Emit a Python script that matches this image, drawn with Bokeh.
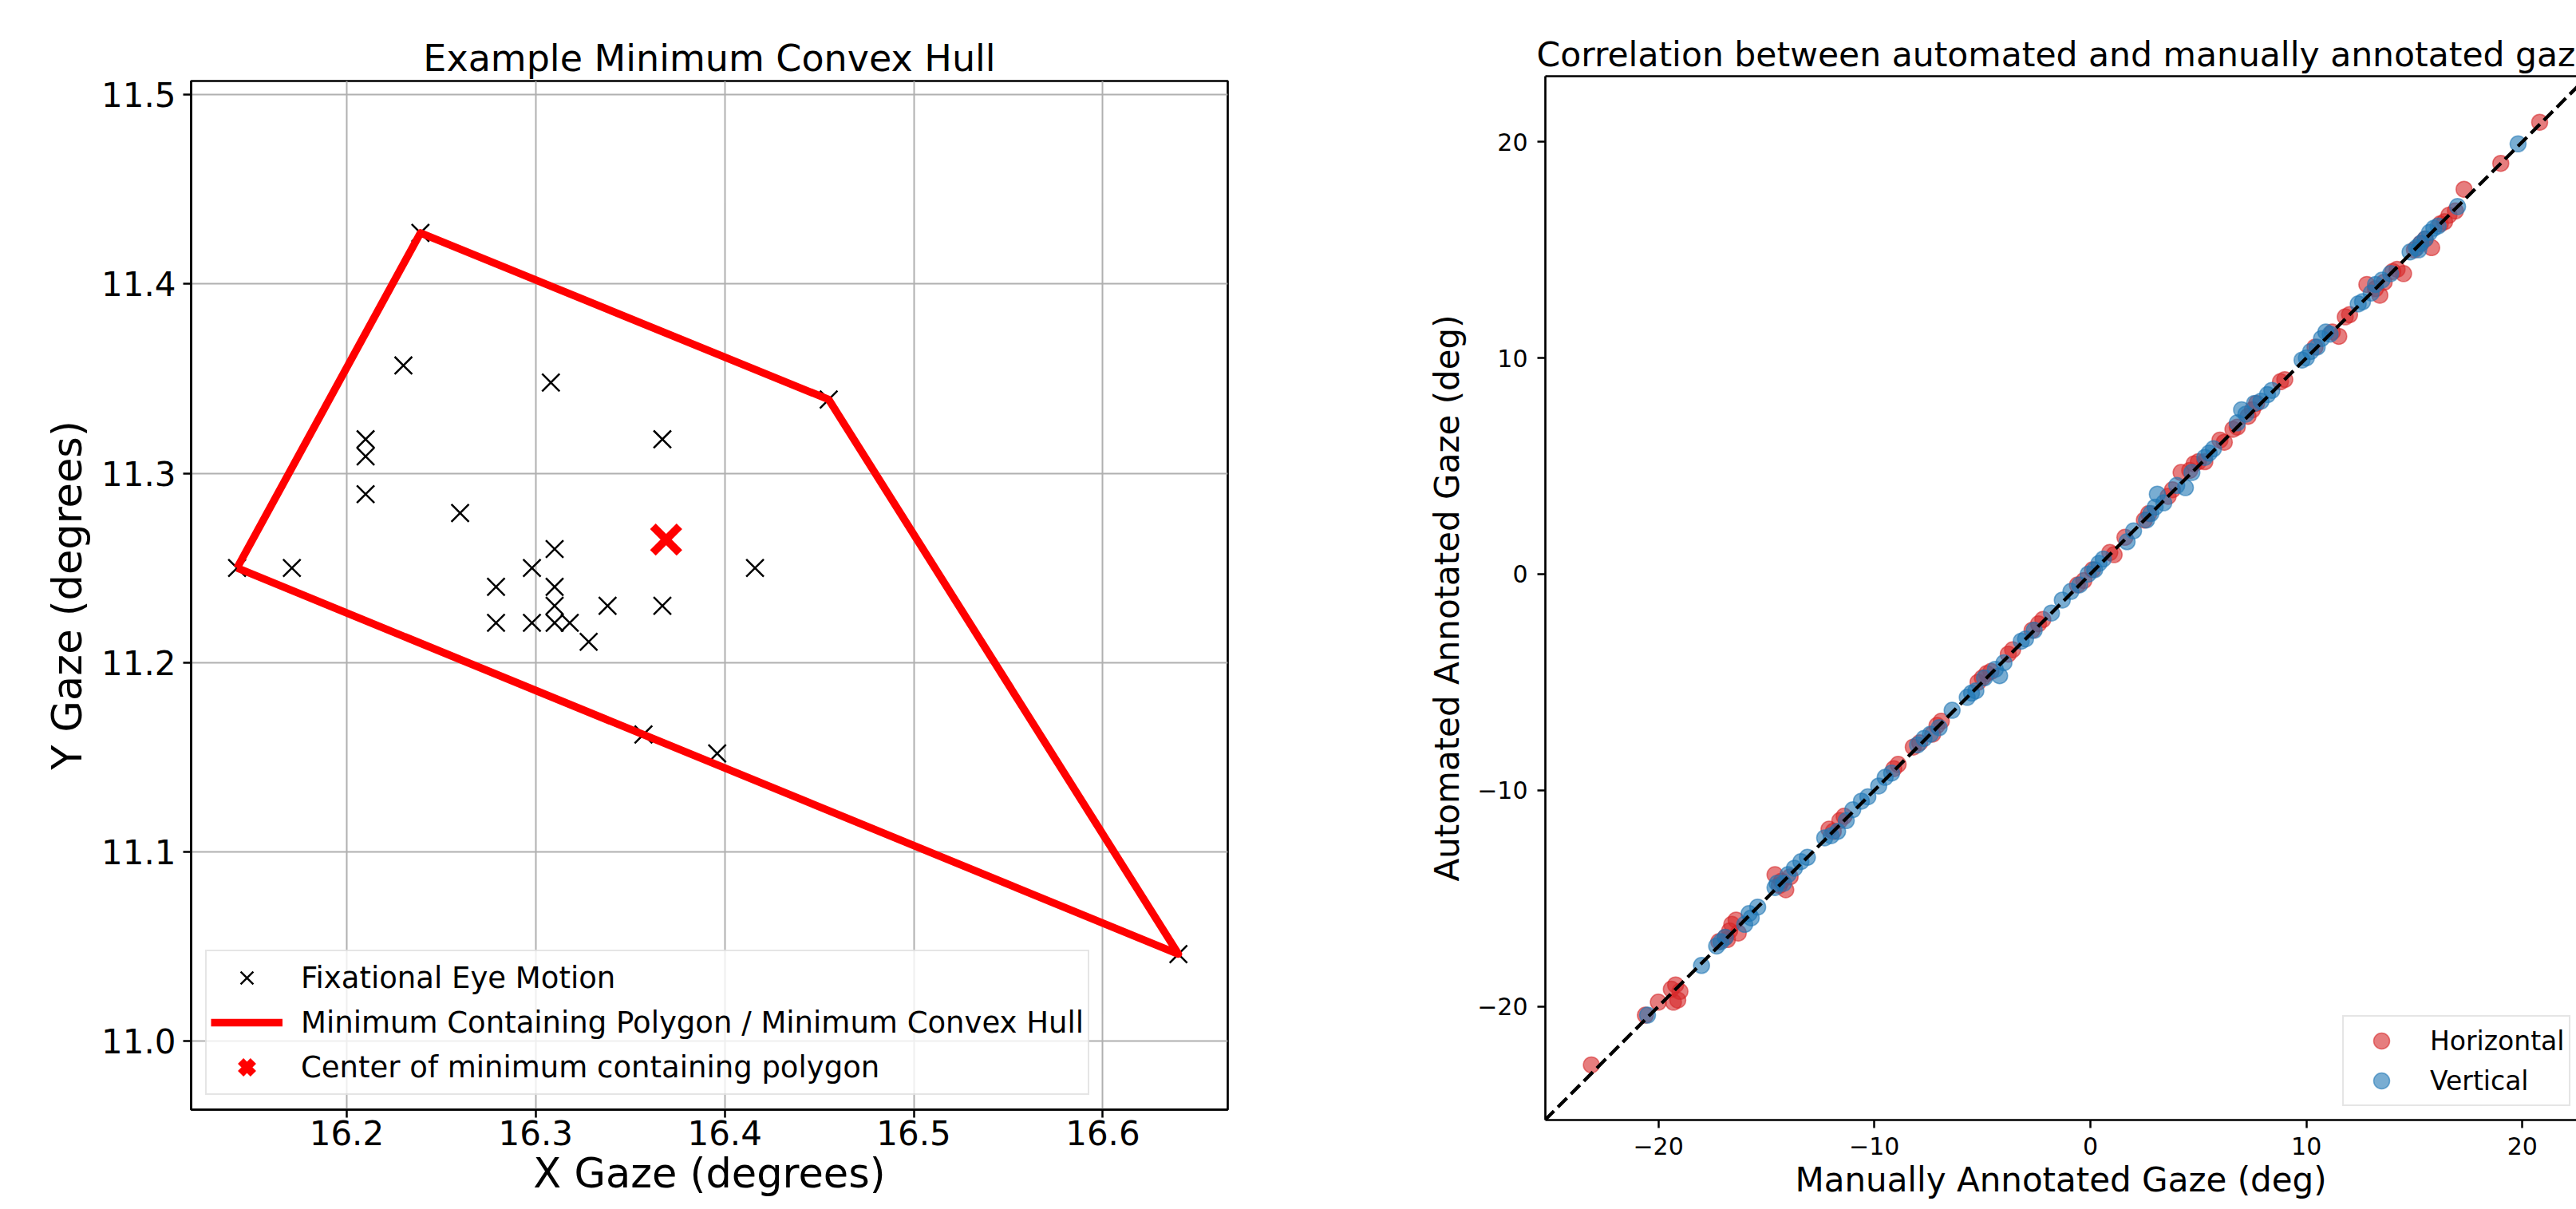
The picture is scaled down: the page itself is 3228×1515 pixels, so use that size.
from bokeh.plotting import figure
from bokeh.layouts import row
from bokeh.models import Range1d, FixedTicker, Legend, LegendItem, Slope, LinearAxis
from bokeh.embed import file_html
from bokeh.resources import INLINE

FONT = "DejaVu Sans"

# ---------------- data: left panel ----------------
fix_x = [16.142, 16.171, 16.230, 16.239, 16.210, 16.210, 16.210, 16.260, 16.308,
         16.367, 16.310, 16.298, 16.279, 16.279, 16.298, 16.310, 16.310, 16.310,
         16.318, 16.328, 16.338, 16.367, 16.416, 16.455, 16.357, 16.396, 16.640]
fix_y = [11.250, 11.250, 11.357, 11.427, 11.318, 11.309, 11.289, 11.279, 11.348,
         11.318, 11.260, 11.250, 11.240, 11.221, 11.221, 11.240, 11.230, 11.221,
         11.221, 11.211, 11.230, 11.230, 11.250, 11.339, 11.162, 11.152, 11.046]
hull_x = [16.142, 16.239, 16.455, 16.640, 16.142]
hull_y = [11.250, 11.427, 11.339, 11.046, 11.250]
center_x = [16.369]
center_y = [11.265]
left_xticks = [16.2, 16.3, 16.4, 16.5, 16.6]
left_yticks = [11.0, 11.1, 11.2, 11.3, 11.4, 11.5]

# ---------------- data: right panel ----------------
h_manual = [-23.1, -20.6, -20.0, -19.4, -19.2, -19.1, -19.3, -19.0,
            -17.2, -16.9, -16.7, -16.6, -16.4, -16.3, -16.8,
            -14.6, -14.3, -14.1, -13.9, -14.4,
            -12.1, -11.9, -11.6, -11.4,
            -9.1, -8.9, -8.2, -7.9, -7.1, -6.9, -7.3,
            -5.2, -5.0, -4.8, -4.6, -3.8, -3.6,
            -2.7, -2.4, -2.2, -0.6, -0.3, 0.1,
            0.9, 1.1, 1.6, 2.5, 2.7, 3.6, 3.8,
            4.2, 4.6, 4.8, 5.0, 5.3, 6.0, 6.2, 6.6, 6.8,
            7.3, 7.5, 7.7, 8.8, 9.0,
            10.4, 11.2, 11.5, 11.8, 12.0,
            12.8, 13.2, 13.4, 13.6, 14.0, 14.5, 14.2,
            15.0, 15.3, 15.8, 15.5, 16.2, 16.4, 16.6, 16.9,
            17.3, 19.0, 20.8]
h_auto = [-22.7, -20.4, -19.8, -19.2, -19.0, -19.7, -19.8, -19.3,
          -17.0, -16.8, -16.5, -16.2, -16.0, -16.6, -16.9,
          -13.9, -14.2, -14.6, -14.0, -14.4,
          -11.8, -11.9, -11.4, -11.2,
          -9.0, -8.8, -8.0, -7.8, -7.0, -6.8, -7.4,
          -5.0, -4.8, -4.6, -4.5, -3.7, -3.5,
          -2.6, -2.3, -2.1, -0.5, -0.3, 0.2,
          1.0, 0.9, 1.7, 2.5, 2.8, 3.6, 3.9,
          4.7, 4.8, 5.1, 5.2, 5.2, 6.2, 6.1, 6.7, 6.8,
          7.3, 7.6, 7.9, 8.9, 9.0,
          10.5, 11.2, 11.0, 11.9, 12.0,
          13.4, 13.2, 12.9, 13.5, 14.0, 13.9, 14.1,
          15.0, 15.3, 15.1, 15.5, 16.2, 16.3, 16.6, 16.8,
          17.8, 19.0, 20.9]
v_manual = [-20.5, -18.0, -17.3, -17.1, -16.9, -16.0, -15.8, -15.4, -15.7,
            -14.6, -14.5, -14.2, -14.0, -13.7, -13.4, -13.1,
            -12.3, -12.0, -11.7, -11.3, -11.0, -10.6, -10.3,
            -9.8, -9.5, -9.2, -8.0, -7.7, -7.4, -7.0, -6.4,
            -5.7, -5.5, -5.3, -4.9, -4.4, -4.2, -4.0,
            -3.2, -3.0, -2.6, -1.8, -1.3, -0.9, -0.5, -0.1, 0.2, 0.4, 0.6,
            1.7, 2.0, 2.6, 2.8, 3.0, 3.1, 3.4,
            4.0, 4.4, 4.7, 5.3, 5.5, 5.7,
            6.8, 7.0, 7.2, 7.6, 7.9, 8.2, 8.4,
            9.8, 10.0, 10.2, 10.5, 10.7, 10.9, 11.1,
            12.4, 12.6, 13.0, 13.2, 13.5, 13.9,
            14.8, 15.1, 15.3, 15.5, 15.7, 15.9, 16.1, 15.2,
            17.0, 19.8]
v_auto = [-20.4, -18.1, -17.2, -17.0, -16.8, -16.2, -15.7, -15.4, -15.9,
          -14.5, -14.3, -14.3, -13.9, -13.6, -13.3, -13.1,
          -12.2, -12.1, -11.9, -11.4, -10.9, -10.5, -10.3,
          -9.8, -9.4, -9.2, -7.9, -7.6, -7.4, -7.1, -6.3,
          -5.7, -5.5, -5.4, -4.8, -4.4, -4.7, -4.1,
          -3.1, -3.0, -2.6, -1.8, -1.2, -0.8, -0.5, 0.0, 0.2, 0.5, 0.7,
          1.5, 2.0, 2.5, 2.8, 3.1, 3.7, 3.3,
          4.1, 4.0, 4.7, 5.4, 5.6, 5.8,
          7.0, 7.6, 7.4, 7.9, 8.0, 8.3, 8.5,
          9.9, 10.0, 10.3, 10.5, 10.9, 11.2, 11.1,
          12.5, 12.6, 13.0, 13.4, 13.6, 13.9,
          14.9, 15.1, 15.3, 15.5, 15.8, 16.0, 16.1, 15.0,
          17.0, 19.9]
right_ticks = [-20, -10, 0, 10, 20]
right_tick_labels = ["\u221220", "\u221210", "0", "10", "20"]


def style_axis(ax, tick_px, label_px):
    ax.axis_line_width = 2.7
    ax.axis_line_color = "black"
    ax.major_tick_line_width = 2.5
    ax.major_tick_line_color = "black"
    ax.major_tick_out = 10
    ax.major_tick_in = 0
    ax.minor_tick_line_color = None
    ax.major_label_text_font = FONT
    ax.major_label_text_font_size = tick_px
    ax.major_label_text_color = "black"
    ax.axis_label_text_font = FONT
    ax.axis_label_text_font_size = label_px
    ax.axis_label_text_font_style = "normal"
    ax.axis_label_text_color = "black"


# ---------------- left figure ----------------
p1 = figure(width=1588, height=1514, frame_align=False,
            min_border_left=239, min_border_right=50, min_border_top=101, min_border_bottom=124,
            x_range=Range1d(16.1177, 16.6661), y_range=Range1d(10.9638, 11.5073),
            output_backend="svg", toolbar_location=None,
            title="Example Minimum Convex Hull")
p1.title.text_font = FONT
p1.title.text_font_size = "46px"
p1.title.text_font_style = "normal"
p1.title.text_color = "black"
p1.title.align = "center"
p1.title.standoff = 3
p1.outline_line_color = "black"
p1.outline_line_width = 2.7
p1.outline_line_alpha = 1.0

bx1 = p1.below[0]
ly1 = p1.left[0]
bx1.ticker = FixedTicker(ticks=left_xticks)
ly1.ticker = FixedTicker(ticks=left_yticks)
bx1.major_label_overrides = {v: f"{v:.1f}" for v in left_xticks}
ly1.major_label_overrides = {v: f"{v:.1f}" for v in left_yticks}
style_axis(bx1, "42px", "51px")
style_axis(ly1, "42px", "51px")
bx1.axis_label = "X Gaze (degrees)"
ly1.axis_label = "Y Gaze (degrees)"
bx1.major_label_standoff = 3
ly1.major_label_standoff = 9
bx1.axis_label_standoff = 3
ly1.axis_label_standoff = 10
p1.grid.grid_line_color = "#b0b0b0"
p1.grid.grid_line_width = 2

r_pts = p1.scatter(fix_x, fix_y, marker="x", size=31, line_color="black", line_width=2.5)
r_hull = p1.line(hull_x, hull_y, line_color="red", line_width=9.5, line_join="round")
r_ctr = p1.scatter(center_x, center_y, marker="x", size=47, line_color="red", line_width=10)

leg1 = Legend(items=[
    LegendItem(label="Fixational Eye Motion", renderers=[r_pts]),
    LegendItem(label="Minimum Containing Polygon / Minimum Convex Hull", renderers=[r_hull]),
    LegendItem(label="Center of minimum containing polygon", renderers=[r_ctr]),
], location=(18, 18))
leg1.padding = 5
leg1.spacing = 0
leg1.glyph_width = 90
leg1.glyph_height = 56
leg1.label_height = 56
leg1.label_standoff = 23
leg1.label_text_font = FONT
leg1.label_text_font_size = "37px"
leg1.label_text_color = "black"
leg1.border_line_color = "#cccccc"
leg1.border_line_width = 2
leg1.background_fill_alpha = 0.8
p1.add_layout(leg1)

# ---------------- right figure ----------------
p2 = figure(width=1640, height=1515, frame_align=False,
            min_border_left=348, min_border_right=0, min_border_top=95, min_border_bottom=112,
            x_range=Range1d(-25.23, 22.50), y_range=Range1d(-25.25, 23.03),
            output_backend="svg", toolbar_location=None,
            title="Correlation between automated and manually annotated gaze")
p2.title.text_font = FONT
p2.title.text_font_size = "42.5px"
p2.title.text_font_style = "normal"
p2.title.text_color = "black"
p2.title.align = "left"
p2.title.offset = -11
p2.title.standoff = 5
p2.outline_line_color = None
p2.grid.grid_line_color = None

bx2 = p2.below[0]
ly2 = p2.left[0]
bx2.ticker = FixedTicker(ticks=right_ticks)
ly2.ticker = FixedTicker(ticks=right_ticks)
for ax in (bx2, ly2):
    ax.major_label_overrides = dict(zip(right_ticks, right_tick_labels))
    style_axis(ax, "30px", "42px")
bx2.axis_label = "Manually Annotated Gaze (deg)"
ly2.axis_label = "Automated Annotated Gaze (deg)"
bx2.major_label_standoff = 11
ly2.major_label_standoff = 12
bx2.axis_label_standoff = 4
ly2.axis_label_standoff = 10

top_axis = LinearAxis(ticker=FixedTicker(ticks=[]), axis_line_width=2.7, axis_line_color="black",
                      major_tick_line_color=None, minor_tick_line_color=None,
                      major_label_text_font_size="0px")
p2.add_layout(top_axis, "above")

r_h = p2.scatter(h_manual, h_auto, marker="circle", size=20, fill_color="#d62728", fill_alpha=0.6,
                 line_color="#d62728", line_alpha=0.6, line_width=1.5)
r_v = p2.scatter(v_manual, v_auto, marker="circle", size=20, fill_color="#1f77b4", fill_alpha=0.6,
                 line_color="#1f77b4", line_alpha=0.6, line_width=1.5)
p2.add_layout(Slope(gradient=1, y_intercept=0, line_color="black", line_width=4.3, line_dash="16 7"))

leg2 = Legend(items=[
    LegendItem(label="Horizontal", renderers=[r_h]),
    LegendItem(label="Vertical", renderers=[r_v]),
], location=(999, 17))
leg2.padding = 5
leg2.spacing = 0
leg2.glyph_width = 84
leg2.glyph_height = 50
leg2.label_height = 50
leg2.label_standoff = 19
leg2.label_text_font = FONT
leg2.label_text_font_size = "33px"
leg2.label_text_color = "black"
leg2.border_line_color = "#cccccc"
leg2.border_line_width = 2
leg2.background_fill_alpha = 0.8
p2.add_layout(leg2)

layout = row(p1, p2)
open("out.html", "w").write(file_html(layout, INLINE))
